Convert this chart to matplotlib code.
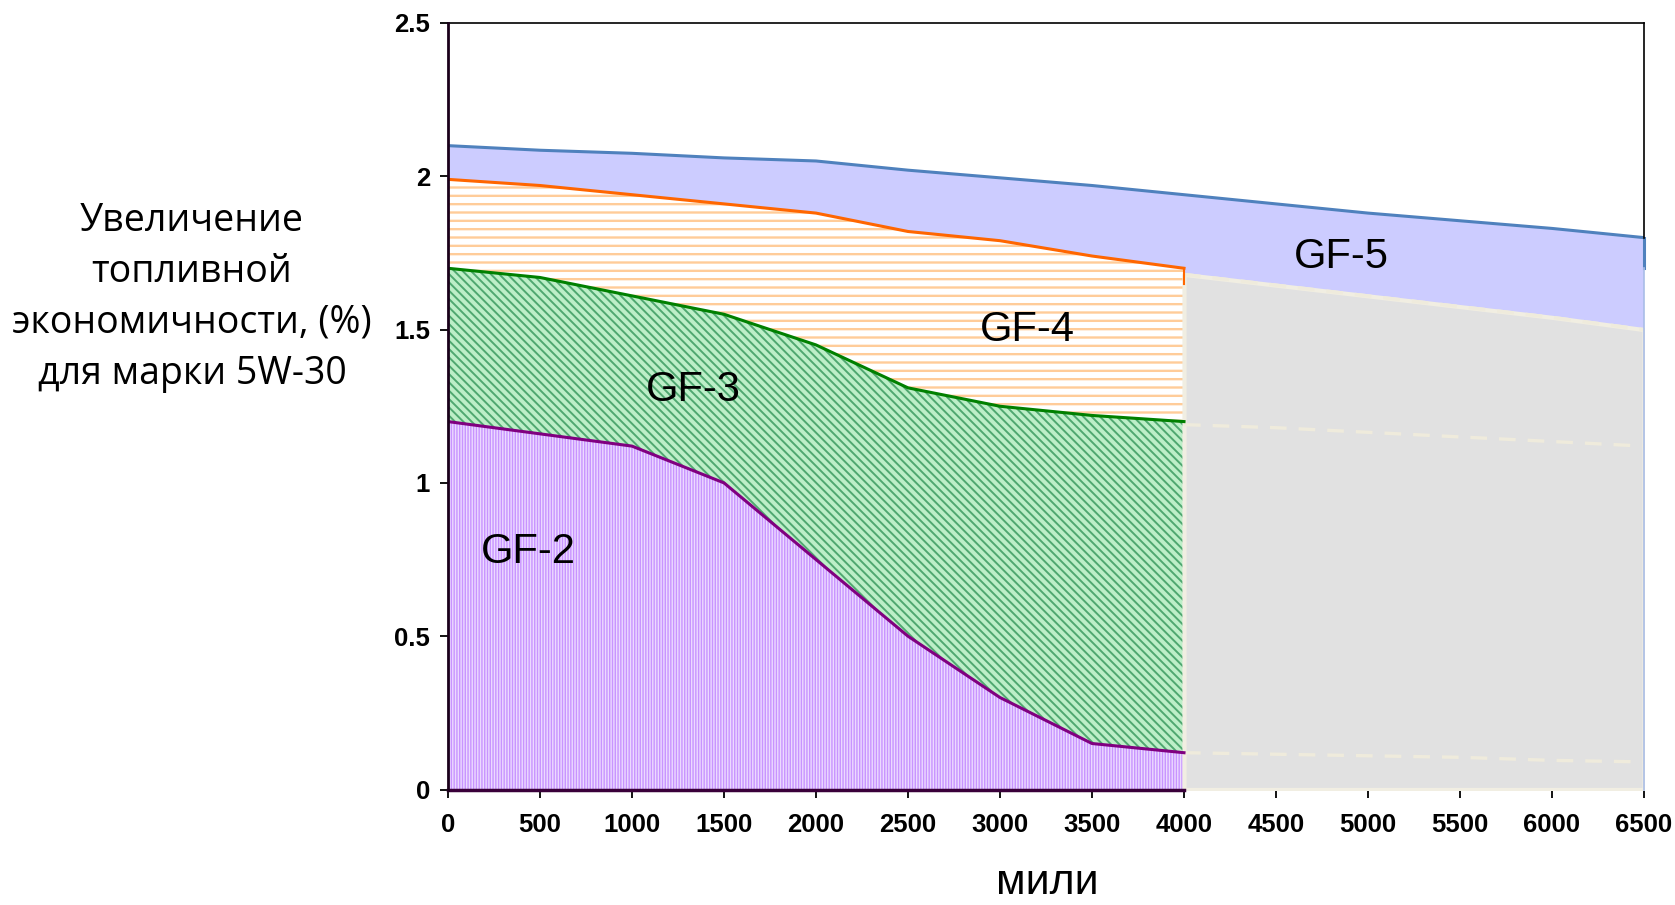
import matplotlib
matplotlib.use("Agg")
import matplotlib.pyplot as plt

plt.rcParams["font.family"] = ["Liberation Sans", "DejaVu Sans"]
plt.rcParams["font.weight"] = "bold"
plt.rcParams["xtick.major.size"] = 6
plt.rcParams["ytick.major.size"] = 6
plt.rcParams["xtick.major.width"] = 1.3
plt.rcParams["ytick.major.width"] = 1.3
plt.rcParams["xtick.major.pad"] = 11
plt.rcParams["ytick.major.pad"] = 7

# ---------------- data ----------------
miles = [0, 500, 1000, 1500, 2000, 2500, 3000, 3500, 4000]
gf2 = [1.20, 1.16, 1.12, 1.00, 0.75, 0.50, 0.30, 0.15, 0.12]
gf3 = [1.70, 1.67, 1.61, 1.55, 1.45, 1.31, 1.25, 1.22, 1.20]
gf4 = [1.99, 1.97, 1.94, 1.91, 1.88, 1.82, 1.79, 1.74, 1.70]

miles_all = [0, 500, 1000, 1500, 2000, 2500, 3000, 3500, 4000, 4500, 5000, 5500, 6000, 6500]
gf5 = [2.10, 2.085, 2.075, 2.06, 2.05, 2.02, 1.995, 1.97, 1.94, 1.91, 1.88, 1.855, 1.83, 1.80]

miles_ext = [4000, 4500, 5000, 5500, 6000, 6500]
gf4_ext = [1.68, 1.645, 1.61, 1.575, 1.54, 1.50]
gf3_ext = [1.19, 1.18, 1.165, 1.15, 1.135, 1.12]
gf2_ext = [0.12, 0.115, 0.11, 0.105, 0.095, 0.09]

region_labels = ["GF-2", "GF-3", "GF-4", "GF-5"]
label_pos = [(435, 0.775), (1332, 1.303), (3147, 1.499), (4853, 1.737)]

xticks = list(range(0, 6501, 500))
yticks = [0, 0.5, 1, 1.5, 2, 2.5]
ytick_labels = ["0", "0.5", "1", "1.5", "2", "2.5"]
ylabel_lines = ["Увеличение", "топливной", "экономичности, (%)", "для марки 5W-30"]
xlabel = "мили"

# ---------------- figure ----------------
W, H = 1675, 905
fig = plt.figure(figsize=(W / 100, H / 100), dpi=100)
ax = fig.add_axes([448 / W, 1 - 789.5 / H, (1644 - 448) / W, (789.5 - 23) / H])
ax.set_xlim(0, 6500)
ax.set_ylim(0, 2.5)

# GF-5 band
ax.fill_between(miles_all, 0, gf5, facecolor="#CCCCFF", edgecolor="none", zorder=1)

# GF-4 (horizontal orange hatch)
with plt.rc_context({"hatch.linewidth": 1.7}):
    ax.fill_between(miles, gf3, gf4, facecolor="white", edgecolor="#FFCC99",
                    hatch="--", linewidth=0, zorder=2)
# GF-3 (diagonal green hatch)
with plt.rc_context({"hatch.linewidth": 1.4}):
    ax.fill_between(miles, gf2, gf3, facecolor="#BDEFC8", edgecolor="#4FA870",
                    hatch="\\\\\\\\", linewidth=0, zorder=2)
# GF-2 (vertical purple hatch)
with plt.rc_context({"hatch.linewidth": 1.0}):
    ax.fill_between(miles, 0, gf2, facecolor="#ECDAFF", edgecolor="#C894FF",
                    hatch="||||||", linewidth=0, zorder=2)

# grey "future" region
ax.fill_between(miles_ext, 0, gf4_ext, facecolor="#E1E1E1", edgecolor="#F1EEE2",
                linewidth=3, zorder=3)
for ys in (gf4_ext, gf3_ext, gf2_ext):
    ax.plot(miles_ext, ys, color="#EFEBDC", lw=2.4, dashes=(5, 3.6), zorder=4,
            solid_capstyle="butt")

# series lines
ax.plot(miles_all, gf5, color="#4F81BD", lw=2.2, zorder=5)
ax.plot(miles, gf4, color="#FF6600", lw=2.2, zorder=5)
ax.plot(miles, gf3, color="#008000", lw=2.2, zorder=5)
ax.plot(miles, gf2, color="#800080", lw=2.2, zorder=5)
ax.plot([miles[-1], miles[-1]], [gf4[-1], gf4_ext[0] - 0.03], color="#FF6600", lw=1.5, zorder=5)
ax.plot([0, miles[-1]], [0, 0], color="#3A003A", lw=2.5, zorder=6, clip_on=False)

# right edge
ax.plot([6500, 6500], [gf5[-1], 1.70], color="#4F81BD", lw=2.2, zorder=5, clip_on=False)
ax.plot([6500, 6500], [0, 1.70], color="#A9BDE6", lw=1.2, zorder=5, clip_on=False)
ax.plot([6500, 6500], [gf5[-1], 2.5], color="black", lw=1.2, zorder=6, clip_on=False)

# spines
ax.spines["right"].set_visible(False)
ax.spines["bottom"].set_visible(False)
ax.spines["left"].set_linewidth(2.0)
ax.spines["left"].set_color("#1A001A")
ax.spines["top"].set_linewidth(1.2)
ax.spines["left"].set_zorder(7)

ax.set_xticks(xticks, [str(t) for t in xticks])
ax.set_yticks(yticks, ytick_labels)
ax.tick_params(axis="both", labelsize=18.5)

for text, (x, y) in zip(region_labels, label_pos):
    ax.text(x, y, text, fontsize=30, family="Liberation Sans", weight="normal",
            ha="center", va="center", zorder=8)

baselines = [231, 282, 333, 384]
for line, b in zip(ylabel_lines, baselines):
    fig.text(192 / W, 1 - b / H, line, fontsize=27, family="Open Sans",
             weight="normal", ha="center", va="baseline")

fig.text(1047 / W, 1 - 894 / H, xlabel, fontsize=31, family="Liberation Sans",
         weight="normal", ha="center", va="baseline")

fig.savefig("out.png", dpi=100)
